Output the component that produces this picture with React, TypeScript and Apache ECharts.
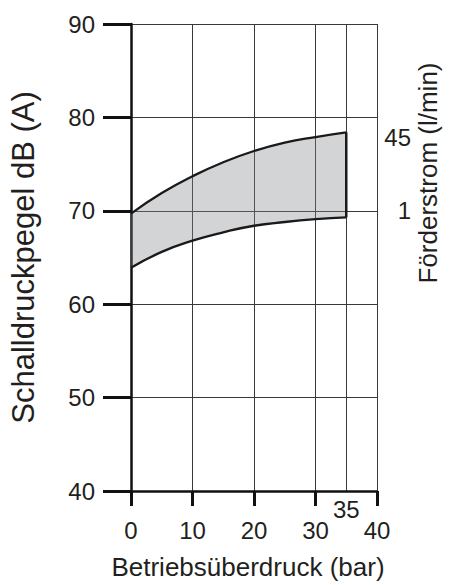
import React, { useEffect, useRef } from "react";
import * as echarts from "echarts";

const pressureCats = ["0", "5", "10", "15", "20", "25", "30", "35", "40"];
const labelledPressures = ["0", "10", "20", "30", "40"];
const gridPressures = ["0", "10", "20", "30", "35", "40"];
const upperDb = [69.7, 71.9, 73.7, 75.2, 76.4, 77.3, 77.9, 78.4];
const lowerDb = [63.9, 65.6, 66.8, 67.7, 68.4, 68.8, 69.1, 69.3];
const maxPressure = "35";
const flowLabels = ["1", "45"];
const flowLevels = [70, 77.9];

const FONT = "'Liberation Sans', Arial, Helvetica, sans-serif";
const TXT = "#231f20";
const GRID = "#3a3a3a";

export default function App() {
  const ref = useRef<HTMLDivElement>(null);
  useEffect(() => {
    if (!ref.current) return;
    const chart = echarts.init(ref.current, undefined, { renderer: "svg" });
    const bandDb = upperDb.map((u, i) => +(u - lowerDb[i]).toFixed(2));
    const last = upperDb.length - 1;
    const showLabelled = (i: number) => labelledPressures.includes(pressureCats[i]);
    const showGrid = (i: number) => gridPressures.includes(pressureCats[i]);
    chart.setOption({
      animation: false,
      textStyle: { fontFamily: FONT, color: TXT },
      grid: { left: 131, top: 24, width: 246, height: 470, containLabel: false },
      xAxis: {
        type: "category",
        data: pressureCats,
        boundaryGap: false,
        name: "Betriebsüberdruck (bar)",
        nameLocation: "middle",
        nameGap: 63,
        nameTextStyle: { fontSize: 26, color: TXT, fontFamily: FONT, padding: [0, 12, 0, 0] },
        axisLine: { show: true, lineStyle: { color: "#111", width: 2.5 } },
        axisTick: {
          show: true,
          interval: showLabelled,
          length: 15,
          lineStyle: { color: "#111", width: 3 },
        },
        axisLabel: {
          interval: showLabelled,
          fontSize: 24,
          color: TXT,
          margin: 27,
          fontFamily: FONT,
        },
        splitLine: { show: true, interval: showGrid, lineStyle: { color: GRID, width: 1 } },
      },
      yAxis: [
        {
          type: "value",
          min: 40,
          max: 90,
          interval: 10,
          name: "Schalldruckpegel dB (A)",
          nameLocation: "middle",
          nameRotate: 90,
          nameGap: 92,
          nameTextStyle: { fontSize: 31, color: TXT, fontFamily: FONT },
          axisLine: { show: true, lineStyle: { color: "#111", width: 2.5 } },
          axisTick: { show: true, length: 28, lineStyle: { color: "#111", width: 3 } },
          axisLabel: { fontSize: 24, color: TXT, margin: 36, fontFamily: FONT },
          splitLine: { show: true, lineStyle: { color: GRID, width: 1 } },
        },
        {
          type: "value",
          position: "right",
          min: 40,
          max: 90,
          axisLine: { show: false },
          axisTick: { show: false },
          splitLine: { show: false },
          axisLabel: {
            customValues: flowLevels,
            formatter: (v: number) => {
              const i = flowLevels.indexOf(v);
              return i >= 0 ? flowLabels[i] : "";
            },
            align: "right",
            margin: 34,
            fontSize: 24,
            color: TXT,
            fontFamily: FONT,
          },
        },
      ],
      graphic: [
        {
          type: "text",
          x: 428,
          y: 173,
          rotation: Math.PI / 2,
          style: {
            text: "Förderstrom (l/min)",
            font: `26px ${FONT}`,
            fill: TXT,
            align: "center",
            verticalAlign: "middle",
          },
        },
      ],
      series: [
        {
          type: "line",
          stack: "band",
          data: lowerDb,
          smooth: true,
          symbol: "none",
          silent: true,
          lineStyle: { opacity: 0 },
        },
        {
          type: "line",
          stack: "band",
          data: bandDb,
          smooth: true,
          symbol: "none",
          silent: true,
          lineStyle: { opacity: 0 },
          areaStyle: { color: "rgba(128,131,137,0.35)", opacity: 1 },
        },
        {
          type: "line",
          data: upperDb,
          smooth: true,
          symbol: "none",
          silent: true,
          lineStyle: { color: "#1a1a1a", width: 2.3 },
        },
        {
          type: "line",
          data: lowerDb,
          smooth: true,
          symbol: "none",
          silent: true,
          lineStyle: { color: "#1a1a1a", width: 2.3 },
          markLine: {
            silent: true,
            symbol: "none",
            lineStyle: { color: "rgba(0,0,0,0)", width: 1, type: "solid" },
            label: {
              show: true,
              position: "start",
              formatter: maxPressure,
              fontSize: 24,
              color: TXT,
              fontFamily: FONT,
              distance: 6,
            },
            data: [{ xAxis: maxPressure }],
          },
        },
        {
          type: "line",
          data: [
            [maxPressure, lowerDb[last]],
            [maxPressure, upperDb[last]],
          ],
          symbol: "none",
          silent: true,
          lineStyle: { color: "#1a1a1a", width: 2.5 },
        },
      ],
    });
    return () => chart.dispose();
  }, []);
  return (
    <div
      ref={ref}
      style={{ position: "fixed", left: 0, top: 0, width: 449, height: 585, background: "#fff" }}
    />
  );
}
